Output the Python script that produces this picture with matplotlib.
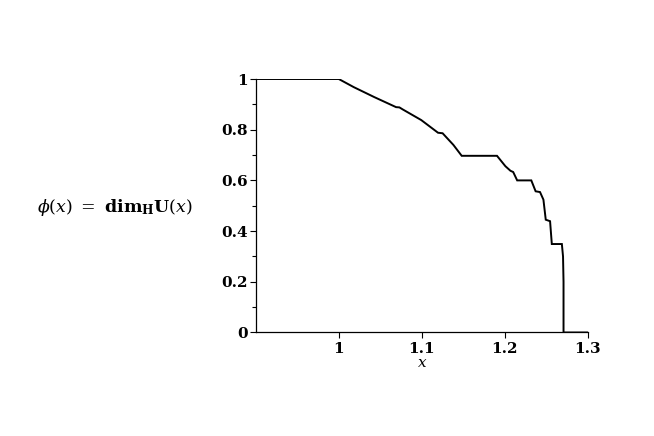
import matplotlib
matplotlib.use("Agg")
import matplotlib.pyplot as plt
from matplotlib.ticker import MultipleLocator

plt.rcParams['mathtext.fontset'] = 'dejavuserif'
plt.rcParams['font.family'] = ['DejaVu Serif', 'Liberation Serif']

# curve phi(x) = dim_H U(x)
x_vals = [0.9, 1.0, 1.018, 1.0425, 1.069, 1.073, 1.077, 1.0993, 1.1195, 1.125,
          1.138, 1.148, 1.1905, 1.2006, 1.2067, 1.21, 1.2148, 1.2318, 1.237,
          1.2423, 1.2464, 1.2492, 1.2544, 1.2565, 1.2686, 1.2700, 1.2706, 1.2706, 1.3]
y_vals = [1.0, 1.0, 0.968, 0.929, 0.889, 0.888, 0.880, 0.838, 0.788, 0.786,
          0.740, 0.697, 0.697, 0.656, 0.638, 0.633, 0.600, 0.600, 0.557,
          0.554, 0.524, 0.445, 0.439, 0.349, 0.349, 0.300, 0.200, 0.0, 0.0]

x_ticks = [1.0, 1.1, 1.2, 1.3]
x_tick_labels = ['1', '1.1', '1.2', '1.3']
y_ticks = [0.0, 0.2, 0.4, 0.6, 0.8, 1.0]
y_tick_labels = ['0', '0.2', '0.4', '0.6', '0.8', '1']

fig = plt.figure(figsize=(6.54, 4.36), dpi=100)
ax = fig.add_axes([0.391, 0.2374, 0.508, 0.5814])
ax.plot(x_vals, y_vals, color='black', lw=1.4, solid_joinstyle='miter')

ax.set_xlim(0.9, 1.3)
ax.set_ylim(0, 1)
ax.spines['top'].set_visible(False)
ax.spines['right'].set_visible(False)
for s in ('left', 'bottom'):
    ax.spines[s].set_linewidth(0.9)

ax.set_xticks(x_ticks)
ax.set_xticklabels(x_tick_labels)
ax.set_yticks(y_ticks)
ax.set_yticklabels(y_tick_labels)
ax.yaxis.set_minor_locator(MultipleLocator(0.1))
ax.tick_params(axis='both', which='major', direction='out', length=4, width=0.8,
               labelsize=11, pad=2)
ax.tick_params(axis='x', which='major', pad=3)
ax.tick_params(axis='y', which='minor', direction='out', length=3, width=0.8)
for lab in ax.get_xticklabels() + ax.get_yticklabels():
    lab.set_fontweight('bold')

ax.set_xlabel('$x$', fontsize=11, labelpad=0)
fig.text(0.176, 0.525, r'$\phi(x)\ =\ \mathbf{dim}_{\mathbf{H}}\mathbf{U}(x)$',
         fontsize=12.5, ha='center', va='center')

fig.savefig('out.png', dpi=100)
